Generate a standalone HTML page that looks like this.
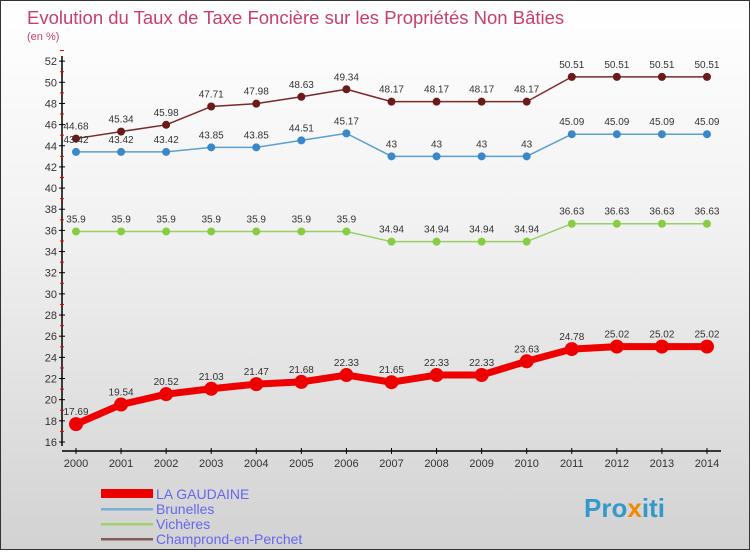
<!DOCTYPE html>
<html><head><meta charset="utf-8"><style>
body{margin:0;width:750px;height:550px;overflow:hidden}
#wrap{position:relative;width:748px;height:548px;border:1px solid #333;background:linear-gradient(#ffffff 0%,#f2f2f2 40%,#d2d2d2 100%)}
svg text{font-family:"Liberation Sans",sans-serif}
</style></head><body>
<div id="wrap">
<svg id="svg" width="748" height="548" xmlns="http://www.w3.org/2000/svg">
<text x="26" y="23" font-size="18.5" fill="#c8406a">Evolution du Taux de Taxe Foncière sur les Propriétés Non Bâties</text>
<text x="26" y="39" font-size="11" fill="#c8406a">(en %)</text>
<g id="axes"></g><g id="series"></g>
<g>
<rect x="100" y="488" width="52" height="9" fill="#e00"/>
<text x="155" y="498" font-size="14" fill="#6666ee">LA GAUDAINE</text>
<rect x="100" y="507" width="52" height="2.5" fill="#7ab0d4"/>
<text x="155" y="513" font-size="14" fill="#6666ee">Brunelles</text>
<rect x="100" y="522" width="52" height="2.5" fill="#a0d070"/>
<text x="155" y="528" font-size="14" fill="#6666ee">Vichères</text>
<rect x="100" y="537" width="52" height="2.5" fill="#8a5a5a"/>
<text x="155" y="543" font-size="14" fill="#6666ee">Champrond-en-Perchet</text>
</g>
<text x="583" y="516" font-size="26" font-weight="bold" fill="#3399cc">Pro<tspan fill="#f08a00">x</tspan>iti</text>
</svg></div>
<script>
const years=[2000,2001,2002,2003,2004,2005,2006,2007,2008,2009,2010,2011,2012,2013,2014];
const yTicks=[16,18,20,22,24,26,28,30,32,34,36,38,40,42,44,46,48,50,52];
const gaudaine=[17.69,19.54,20.52,21.03,21.47,21.68,22.33,21.65,22.33,22.33,23.63,24.78,25.02,25.02,25.02];
const brunelles=[43.42,43.42,43.42,43.85,43.85,44.51,45.17,43,43,43,43,45.09,45.09,45.09,45.09];
const vicheres=[35.9,35.9,35.9,35.9,35.9,35.9,35.9,34.94,34.94,34.94,34.94,36.63,36.63,36.63,36.63];
const champrond=[44.68,45.34,45.98,47.71,47.98,48.63,49.34,48.17,48.17,48.17,48.17,50.51,50.51,50.51,50.51];
const NS="http://www.w3.org/2000/svg";
const X=y=>75+(y-2000)*45.07, Y=v=>441-(v-16)*10.58;
function mk(t,a,p){const e=document.createElementNS(NS,t);for(const k in a)e.setAttribute(k,a[k]);p.appendChild(e);return e;}
const ax=document.getElementById('axes');
let yl=mk('line',{x1:61,y1:55,x2:61,y2:445,stroke:'#000','stroke-width':1.5},ax);


let xl=mk('line',{x1:61,y1:450,x2:720,y2:450,stroke:'#000','stroke-width':1.5},ax);


yTicks.forEach(v=>{mk('line',{x1:58,y1:Y(v),x2:64,y2:Y(v),stroke:'#000'},ax);
 mk('line',{x1:59,y1:Y(v+1),x2:63,y2:Y(v+1),stroke:'#e00'},ax);
 const t=mk('text',{x:56,y:Y(v)+4,'font-size':11,fill:'#333','text-anchor':'end'},ax);t.textContent=v;
 
 });
years.forEach(y=>{mk('line',{x1:X(y),y1:447,x2:X(y),y2:453,stroke:'#000'},ax);
 const t=mk('text',{x:X(y),y:466,'font-size':11,fill:'#333','text-anchor':'middle'},ax);t.textContent=y;
 
 });
const sg=document.getElementById('series');
function series(vals,name,color,mcolor,w,r,fs){
 const g=mk('g',{},sg);
 
 
 const pl=mk('polyline',{points:vals.map((v,i)=>X(years[i])+','+Y(v)).join(' '),fill:'none',stroke:color,'stroke-width':w,'stroke-linejoin':'round'},g);
 
 
 vals.forEach((v,i)=>{const c=mk('circle',{cx:X(years[i]),cy:Y(v),r:r,fill:mcolor},g);
  
  
  const t=mk('text',{x:X(years[i]),y:Y(v)-9,'font-size':fs,fill:'#333','text-anchor':'middle'},g);t.textContent=v;
  
  });
}
series(champrond,'champrond','#7a2a2a','#6b1a1a',1.5,4,10);
series(brunelles,'brunelles','#5aa0d0','#3a88c8',1.5,4,10);
series(vicheres,'vicheres','#99d066','#88cc44',1.5,4,10);
series(gaudaine,'la-gaudaine','#ee0000','#ee0000',7,7,10);
</script>
</body></html>
